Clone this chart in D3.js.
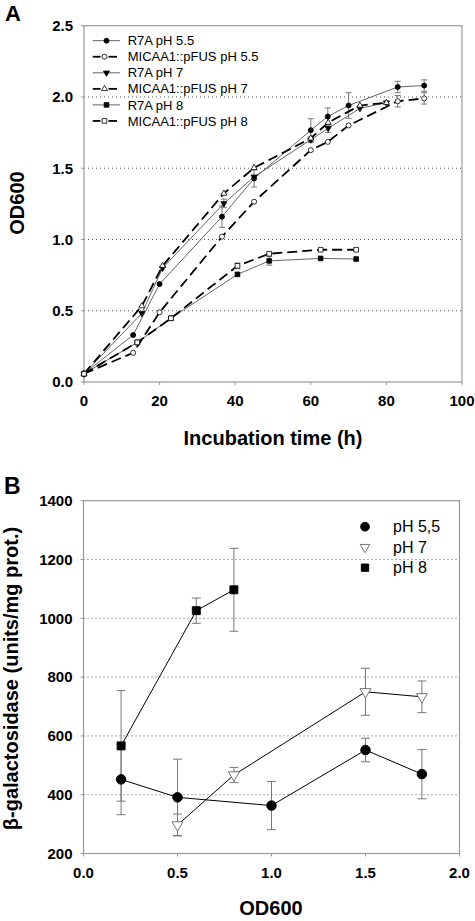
<!DOCTYPE html>
<html><head><meta charset="utf-8">
<script src="https://cdn.jsdelivr.net/npm/d3@7"></script>
<style>
html,body{margin:0;padding:0;background:#fff;}
svg{display:block;font-family:"Liberation Sans",Arial,sans-serif;}
</style></head>
<body>
<svg id="c" width="475" height="921"></svg>
<script>
// ---------- Panel A data ----------
const xTicksA = [0,20,40,60,80,100];
const yTicksA = [0.0,0.5,1.0,1.5,2.0,2.5];
const legendA = ["R7A pH 5.5","MICAA1::pFUS pH 5.5","R7A pH 7","MICAA1::pFUS pH 7","R7A pH 8","MICAA1::pFUS pH 8"];

const timeR55 = [0,13,20,36.5,45,60,64.5,70,83,90];
const odR55   = [0.058,0.33,0.687,1.16,1.428,1.767,1.863,1.94,2.07,2.08];
const errR55  = [0,0,0,0.075,0.06,0.08,0.06,0.09,0.04,0.04];

const timeM55 = [0,13,20,36.5,45,60,64.5,70,83,90];
const odM55   = [0.058,0.205,0.489,1.02,1.265,1.627,1.685,1.80,1.97,1.99];
const errM55  = [0,0,0,0,0,0,0,0,0.04,0.04];

const timeR7 = [0,15.3,20.8,37,45,60,64.6,73,80];
const odR7   = [0.058,0.482,0.80,1.253,1.44,1.70,1.78,1.92,1.96];
const errR7  = [0,0,0,0.03,0,0.02,0.03,0,0];

const timeM7 = [0,15.3,20.8,37,45,60,64.6,73,80];
const odM7   = [0.058,0.533,0.815,1.323,1.503,1.71,1.82,1.94,1.96];
const errM7  = [0,0,0,0,0,0,0,0,0];

const timeR8 = [0,14.1,23,40.6,49,62.6,72];
const odR8   = [0.058,0.278,0.447,0.755,0.85,0.867,0.863];
const errR8  = [0,0,0,0,0.03,0,0];

const timeM8 = [0,14.1,23,40.6,49,62.6,72];
const odM8   = [0.058,0.278,0.447,0.815,0.90,0.928,0.928];
const errM8  = [0,0,0,0.02,0,0,0];

// ---------- Panel B data ----------
const xTicksB = [0.0,0.5,1.0,1.5,2.0];
const yTicksB = [200,400,600,800,1000,1200,1400];
const legendB = ["pH 5,5","pH 7","pH 8"];

const odB55  = [0.2,0.5,1.0,1.5,1.8];
const galB55 = [452,391,363,552,470];
const errB55 = [120,130,82,40,84];

const odB7  = [0.5,0.8,1.5,1.8];
const galB7 = [297,467,750,733];
const errB7 = [37,26,80,54];

const odB8  = [0.2,0.6,0.8];
const galB8 = [566,1026,1097];
const errB8 = [188,43,141];

// ---------- drawing ----------
const svg = d3.select("#c");
const frameCol = "#999";

const triDown = {draw(ctx,size){const s=Math.sqrt(size/ (Math.sqrt(3)/4)); const h=s*Math.sqrt(3)/2; ctx.moveTo(-s/2,-h/3); ctx.lineTo(s/2,-h/3); ctx.lineTo(0,2*h/3); ctx.closePath();}};
const triUp = {draw(ctx,size){const s=Math.sqrt(size/ (Math.sqrt(3)/4)); const h=s*Math.sqrt(3)/2; ctx.moveTo(-s/2,h/3); ctx.lineTo(s/2,h/3); ctx.lineTo(0,-2*h/3); ctx.closePath();}};

function panel(g, x, y, xTicks, yTicks, xFmt, yFmt, gridVals){
  const [x0,x1] = x.range(), [y0,y1] = y.range();
  g.selectAll(".grid").data(gridVals).join("line")
    .attr("x1",x0).attr("x2",x1).attr("y1",d=>y(d)).attr("y2",d=>y(d))
    .attr("stroke","#555").attr("stroke-width",1).attr("stroke-dasharray","1,3");
  g.append("rect").attr("x",x0).attr("y",y1).attr("width",x1-x0).attr("height",y0-y1)
    .attr("fill","none").attr("stroke",frameCol).attr("stroke-width",1.2);
  g.selectAll(".xt").data(xTicks).join("line")
    .attr("x1",d=>x(d)).attr("x2",d=>x(d)).attr("y1",y0).attr("y2",y0+3)
    .attr("stroke",frameCol);
  g.selectAll(".yt").data(yTicks).join("line")
    .attr("x1",x0-3).attr("x2",x0).attr("y1",d=>y(d)).attr("y2",d=>y(d))
    .attr("stroke",frameCol);
  g.selectAll(".xl").data(xTicks).join("text")
    .attr("x",d=>x(d)).attr("y",y0+24).attr("text-anchor","middle")
    .attr("font-size",15).attr("font-weight","bold").text(xFmt);
  g.selectAll(".yl").data(yTicks).join("text")
    .attr("x",x0-11).attr("y",d=>y(d)+5.3).attr("text-anchor","end")
    .attr("font-size",15).attr("font-weight","bold").text(yFmt);
}

// ===== Panel A =====
const xA = d3.scaleLinear().domain([0,100]).range([84,462]);
const yA = d3.scaleLinear().domain([0,2.5]).range([382,25.7]);
const gA = svg.append("g");
panel(gA, xA, yA, xTicksA, yTicksA, d=>d3.format("d")(d), d=>d3.format(".1f")(d), [0.5,1.0,1.5,2.0]);

const seriesA = [
  {name:legendA[0], t:timeR55, v:odR55, e:errR55, sym:d3.symbolCircle, fill:"#000", dashed:false, size:20},
  {name:legendA[1], t:timeM55, v:odM55, e:errM55, sym:d3.symbolCircle, fill:"#fff", dashed:true, size:20},
  {name:legendA[2], t:timeR7, v:odR7, e:errR7, sym:triDown, fill:"#000", dashed:false, size:16},
  {name:legendA[3], t:timeM7, v:odM7, e:errM7, sym:triUp, fill:"#fff", dashed:true, size:16},
  {name:legendA[4], t:timeR8, v:odR8, e:errR8, sym:d3.symbolSquare, fill:"#000", dashed:false, size:22},
  {name:legendA[5], t:timeM8, v:odM8, e:errM8, sym:d3.symbolSquare, fill:"#fff", dashed:true, size:22}
];
const lineA = d3.line().x(d=>xA(d[0])).y(d=>yA(d[1]));
function styleLine(sel, s){
  if(s.dashed) sel.attr("stroke","#000").attr("stroke-width",1.8).attr("stroke-dasharray","10,5");
  else sel.attr("stroke","#555").attr("stroke-width",0.9);
}
seriesA.forEach(s=>{
  const pts = s.t.map((t,i)=>[t,s.v[i],s.e[i]]);
  styleLine(gA.append("path").attr("d",lineA(pts)).attr("fill","none"), s);
  pts.filter(p=>p[2]>0).forEach(p=>{
    const cx=xA(p[0]), ya=yA(p[1]+p[2]), yb=yA(p[1]-p[2]);
    gA.append("line").attr("x1",cx).attr("x2",cx).attr("y1",ya).attr("y2",yb).attr("stroke","#777").attr("stroke-width",1);
    [ya,yb].forEach(yy=>gA.append("line").attr("x1",cx-3).attr("x2",cx+3).attr("y1",yy).attr("y2",yy).attr("stroke","#777").attr("stroke-width",1));
  });
  gA.selectAll(null).data(pts).join("path")
    .attr("d",d3.symbol().type(s.sym).size(s.size)())
    .attr("transform",p=>`translate(${xA(p[0])},${yA(p[1])})`)
    .attr("fill",s.fill).attr("stroke","#000").attr("stroke-width",0.8);
});
seriesA.forEach((s,i)=>{
  const cy = 40.7 + i*16.05;
  const lg = gA.append("g");
  if(s.dashed){
    lg.append("line").attr("x1",92.7).attr("x2",100.5).attr("y1",cy).attr("y2",cy).attr("stroke","#000").attr("stroke-width",1.8);
    lg.append("line").attr("x1",108.5).attr("x2",117).attr("y1",cy).attr("y2",cy).attr("stroke","#000").attr("stroke-width",1.8);
  } else {
    lg.append("line").attr("x1",92.7).attr("x2",120).attr("y1",cy).attr("y2",cy).attr("stroke","#555").attr("stroke-width",0.9);
  }
  lg.append("path").attr("d",d3.symbol().type(s.sym).size(s.size)()).attr("transform",`translate(${s.dashed?104.5:106.5},${cy})`)
    .attr("fill",s.fill).attr("stroke","#000").attr("stroke-width",0.8);
  lg.append("text").attr("x",127.7).attr("y",cy+4.6).attr("font-size",13).text(s.name);
});
svg.append("text").attr("x",273).attr("y",445).attr("text-anchor","middle").attr("font-size",20).attr("font-weight","bold").text("Incubation time (h)");
svg.append("text").attr("transform","translate(24,203) rotate(-90)").attr("text-anchor","middle").attr("font-size",20).attr("font-weight","bold").text("OD600");
svg.append("text").attr("x",5).attr("y",20.5).attr("font-size",22).attr("font-weight","bold").text("A");

// ===== Panel B =====
const xB = d3.scaleLinear().domain([0,2]).range([83.5,459.5]);
const yB = d3.scaleLinear().domain([200,1400]).range([853.5,500.7]);
const gB = svg.append("g");
panel(gB, xB, yB, xTicksB, yTicksB, d=>d3.format(".1f")(d), d=>d3.format("d")(d), [400,600,800,1000,1200]);

const seriesB = [
  {name:legendB[0], x:odB55, v:galB55, e:errB55, sym:d3.symbolCircle, fill:"#000", size:72},
  {name:legendB[1], x:odB7, v:galB7, e:errB7, sym:triDown, fill:"#fff", size:52},
  {name:legendB[2], x:odB8, v:galB8, e:errB8, sym:d3.symbolSquare, fill:"#000", size:64}
];
const lineB = d3.line().x(d=>xB(d[0])).y(d=>yB(d[1]));
seriesB.forEach(s=>{
  const pts = s.x.map((x,i)=>[x,s.v[i],s.e[i]]);
  gB.append("path").attr("d",lineB(pts)).attr("fill","none").attr("stroke","#000").attr("stroke-width",1);
});
seriesB.forEach(s=>{
  const pts = s.x.map((x,i)=>[x,s.v[i],s.e[i]]);
  pts.forEach(p=>{
    const cx=xB(p[0]), ya=yB(p[1]+p[2]), yb=yB(p[1]-p[2]);
    gB.append("line").attr("x1",cx).attr("x2",cx).attr("y1",ya).attr("y2",yb).attr("stroke","#777").attr("stroke-width",1);
    [ya,yb].forEach(yy=>gB.append("line").attr("x1",cx-4.5).attr("x2",cx+4.5).attr("y1",yy).attr("y2",yy).attr("stroke","#777").attr("stroke-width",1));
  });
});
seriesB.forEach(s=>{
  const pts = s.x.map((x,i)=>[x,s.v[i]]);
  gB.selectAll(null).data(pts).join("path")
    .attr("d",d3.symbol().type(s.sym).size(s.size)())
    .attr("transform",p=>`translate(${xB(p[0])},${yB(p[1])})`)
    .attr("fill",s.fill).attr("stroke",s.fill==="#fff"?"#666":"#000").attr("stroke-width",0.9);
});
seriesB.forEach((s,i)=>{
  const cy = 526.7 + i*20.5;
  gB.append("path").attr("d",d3.symbol().type(s.sym).size(s===seriesB[1]?40:s.size*0.85)())
    .attr("transform",`translate(365,${cy})`).attr("fill",s.fill).attr("stroke",s.fill==="#fff"?"#666":"#000").attr("stroke-width",0.9);
  gB.append("text").attr("x",393).attr("y",cy+5.6).attr("font-size",16).text(s.name);
});
svg.append("text").attr("x",271).attr("y",915).attr("text-anchor","middle").attr("font-size",20).attr("font-weight","bold").text("OD600");
svg.append("text").attr("transform","translate(18,678.5) rotate(-90)").attr("text-anchor","middle").attr("font-size",20).attr("font-weight","bold").text("β-galactosidase (units/mg prot.)");
svg.append("text").attr("x",4).attr("y",493.5).attr("font-size",23).attr("font-weight","bold").text("B");
</script>
</body></html>
